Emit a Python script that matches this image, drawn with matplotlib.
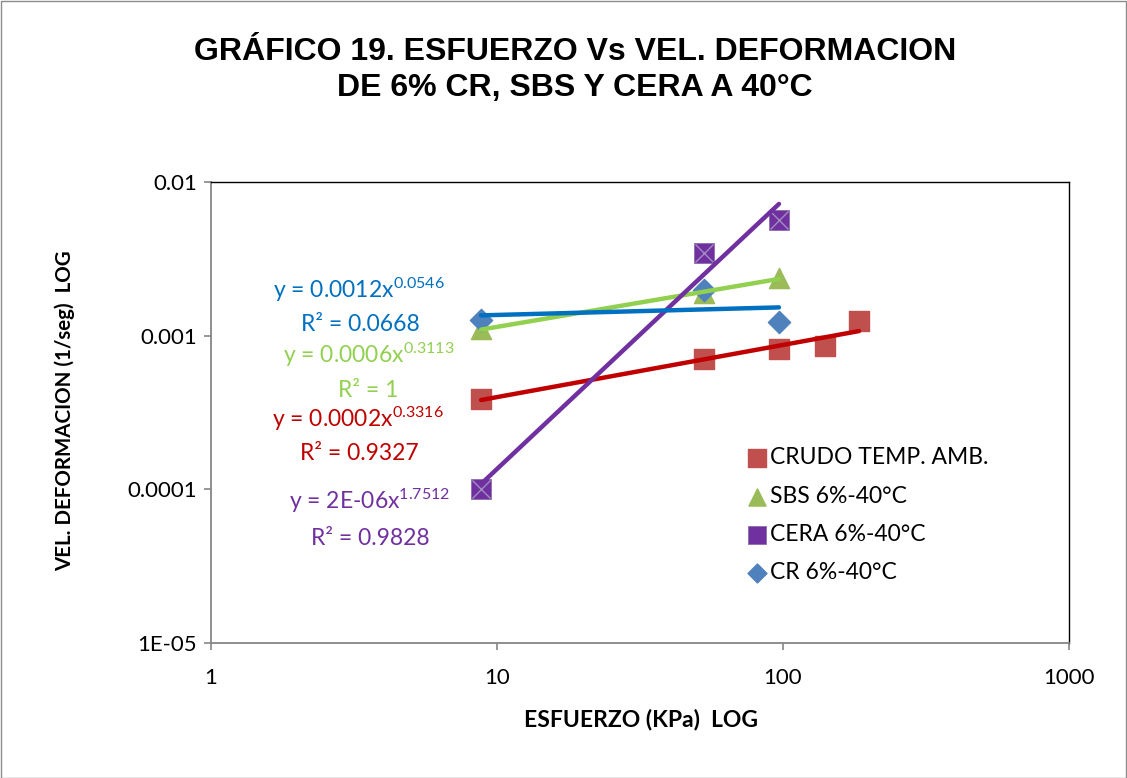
import numpy as np
import matplotlib
matplotlib.use("Agg")
import matplotlib.pyplot as plt
from matplotlib.patches import Rectangle

# ---- data ----
crudo_x = [8.8, 52.9, 96.8, 140.0, 184.5]
crudo_y = [0.00039, 0.00070, 0.00082, 0.00086, 0.00125]
sbs_x = [8.8, 52.9, 96.8]
sbs_y = [0.0011, 0.0019, 0.00237]
cera_x = [8.8, 52.9, 96.8]
cera_y = [0.0001, 0.00345, 0.00566]
cr_x = [8.8, 52.9, 96.8]
cr_y = [0.00126, 0.00198, 0.00123]

labels = ["CRUDO TEMP. AMB.", "SBS 6%-40°C", "CERA 6%-40°C", "CR 6%-40°C"]
eq_texts = [
    (r"y = 0.0012x$^{0.0546}$", "R² = 0.0668"),
    (r"y = 0.0006x$^{0.3113}$", "R² = 1"),
    (r"y = 0.0002x$^{0.3316}$", "R² = 0.9327"),
    (r"y = 2E-06x$^{1.7512}$", "R² = 0.9828"),
]
xticks = [1, 10, 100, 1000]
xticklabels = ["1", "10", "100", "1000"]
yticks = [1e-5, 1e-4, 1e-3, 1e-2]
yticklabels = ["1E-05", "0.0001", "0.001", "0.01"]

title = "GRÁFICO 19. ESFUERZO Vs VEL. DEFORMACION\nDE 6% CR, SBS Y CERA A 40°C"
xlabel = "ESFUERZO (KPa)  LOG"
ylabel = "VEL. DEFORMACION (1/seg)  LOG"

plt.rcParams['mathtext.fontset'] = 'custom'
plt.rcParams['mathtext.rm'] = 'Lato'
plt.rcParams['mathtext.it'] = 'Lato'

W, H = 1127, 778
fig = plt.figure(figsize=(W / 100, H / 100), dpi=100)
fig.patches.append(Rectangle((0.5 / W, 0.5 / H), 1 - 1.5 / W, 1 - 1.5 / H,
                             transform=fig.transFigure, fill=False,
                             edgecolor="#8c8c8c", linewidth=1.0))

ax = fig.add_axes([211 / W, 1 - 643 / H, (1069 - 211) / W, (643 - 182) / H])
ax.set_xscale("log")
ax.set_yscale("log")
ax.set_xlim(1, 1000)
ax.set_ylim(1e-5, 1e-2)


def fit_line(xs, ys, color):
    lx, ly = np.log10(xs), np.log10(ys)
    b, a = np.polyfit(lx, ly, 1)
    xx = np.array([min(xs), max(xs)])
    ax.plot(xx, 10 ** (a + b * np.log10(xx)), color=color, lw=3.2,
            solid_capstyle="round", zorder=3)


ms = 14.5
ax.scatter(crudo_x, crudo_y, marker="s", s=ms ** 2, color="#c0504d", zorder=2,
           label=labels[0])
ax.scatter(sbs_x, sbs_y, marker="^", s=ms ** 2, color="#9bbb59", zorder=2,
           label=labels[1])
ax.scatter(cera_x, cera_y, marker="s", s=ms ** 2, color="#7030a0", zorder=2,
           edgecolors="#8064a2", linewidths=0.5, label=labels[2])
ax.scatter(cera_x, cera_y, marker="x", s=(ms * 0.9) ** 2, color="#a08cc0",
           linewidths=1.0, zorder=2)
ax.scatter(cr_x, cr_y, marker="D", s=(ms * 0.78) ** 2, color="#4f81bd", zorder=2,
           label=labels[3])

fit_line(crudo_x, crudo_y, "#c00000")
fit_line(sbs_x, sbs_y, "#92d050")
fit_line(cera_x, cera_y, "#7030a0")
fit_line(cr_x, cr_y, "#0070c0")

ax.set_xticks(xticks)
ax.set_xticklabels(xticklabels)
ax.set_yticks(yticks)
ax.set_yticklabels(yticklabels)
ax.minorticks_off()
ax.tick_params(axis="both", which="major", direction="out", length=5,
               width=1.2, color="#868686", labelsize=16)
ax.tick_params(axis="x", pad=13)
ax.tick_params(axis="y", pad=5)
for lab in ax.get_xticklabels() + ax.get_yticklabels():
    lab.set_family("Lato")
for s in ("left", "bottom"):
    ax.spines[s].set_color("#868686")
    ax.spines[s].set_linewidth(1.3)
for s in ("top", "right"):
    ax.spines[s].set_color("black")
    ax.spines[s].set_linewidth(1.0)

fig.text(641 / W, 1 - 719 / H, xlabel, family="Lato", fontsize=16.5,
         fontweight="bold", ha="center", va="center")
fig.text(65 / W, 1 - 411 / H, ylabel, family="Lato", fontsize=14.8,
         fontweight="bold", ha="center", va="center", rotation=90)
fig.text(575 / W, 1 - 70 / H, title,
         ha="center", va="center", family="Liberation Sans", fontsize=23,
         fontweight="bold", linespacing=1.22)

eq_colors = ["#0070c0", "#92d050", "#c00000", "#7030a0"]
# (center x, baseline y) in pixels for equation and R² lines
eq_pos = [((359, 298), (360, 331)), ((369, 363), (368, 397)),
          ((358, 427), (359, 460)), ((370, 509), (370, 545))]
for (t1, t2), c, (p1, p2) in zip(eq_texts, eq_colors, eq_pos):
    fig.text(p1[0] / W, 1 - p1[1] / H, t1, color=c, ha="center", va="baseline",
             family="Lato", fontsize=16.5)
    fig.text(p2[0] / W, 1 - p2[1] / H, t2, color=c, ha="center", va="baseline",
             family="Lato", fontsize=16.5)

leg = ax.legend(loc="upper left", bbox_to_anchor=((734 - 211) / (1069 - 211),
                (643 - 436) / (643 - 182)), frameon=False,
                prop={"family": "Lato", "size": 16.5}, handletextpad=0.05,
                labelspacing=0.75, borderpad=0, handlelength=1.0,
                scatterpoints=1, markerscale=0.85)

fig.savefig("out.png", dpi=100)
